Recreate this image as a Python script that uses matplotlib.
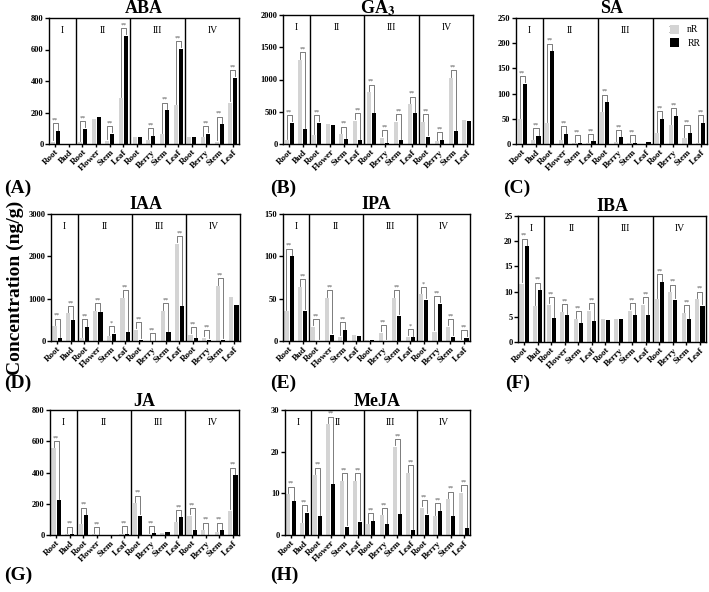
import matplotlib
matplotlib.use("Agg")
import matplotlib.pyplot as plt
import numpy as np

plt.rcParams['font.family'] = ['Liberation Serif', 'DejaVu Serif']
plt.rcParams['mathtext.fontset'] = 'stix'

# tissues for each sampling stage (I, II, III, IV)
tissues = ['Root', 'Bud',
           'Root', 'Flower', 'Stem', 'Leaf',
           'Root', 'Berry', 'Stem', 'Leaf',
           'Root', 'Berry', 'Stem', 'Leaf']
stages = ['I', 'II', 'III', 'IV']

# hormone concentrations (ng/g), nR and RR
aba_nR = [15, 2, 12, 160, 22, 290, 47, 25, 63, 245, 42, 42, 15, 262]
aba_RR = [83, 3, 97, 174, 66, 688, 47, 51, 214, 605, 47, 66, 125, 421]
aba_sig = ['**', '', '**', '', '**', '**', '', '**', '**', '**', '', '**', '**', '**']

ga3_nR = [60, 1300, 140, 310, 150, 360, 800, 100, 345, 615, 340, 40, 1025, 370]
ga3_RR = [330, 225, 330, 300, 70, 60, 480, 10, 65, 480, 115, 60, 200, 360]
ga3_sig = ['**', '**', '**', '', '**', '**', '**', '**', '**', '**', '**', '**', '**', '']

sa_nR = [49, 8, 41, 8, 1, 1, 63, 3, 1, 0.5, 21, 38, 12, 1]
sa_RR = [120, 16, 184, 20, 2, 5, 83, 13, 2, 3, 50, 56, 22, 42]
sa_sig = ['**', '**', '**', '**', '**', '**', '**', '**', '**', '', '**', '**', '**', '**']

iaa_nR = [350, 650, 70, 710, 120, 1020, 270, 5, 710, 2300, 150, 80, 1300, 1040]
iaa_RR = [70, 500, 330, 690, 175, 205, 30, 5, 205, 820, 70, 30, 30, 860]
iaa_sig = ['**', '**', '**', '**', '*', '**', '**', '**', '**', '**', '**', '**', '**', '']

ipa_nR = [35, 64, 17, 51, 5, 7.5, 1.5, 10, 51, 5, 55, 11, 17, 0.5]
ipa_RR = [100, 36, 0.3, 7.5, 13, 6, 1, 0.5, 30, 4.5, 49, 44, 5, 4]
ipa_sig = ['**', '**', '**', '**', '**', '', '', '**', '**', '*', '*', '**', '**', '**']

iba_nR = [11.6, 7.1, 7.4, 6.0, 4.6, 6.2, 4.6, 4.5, 6.2, 7.4, 8.5, 9.9, 5.8, 8.5]
iba_RR = [19.0, 10.3, 4.8, 5.3, 3.8, 4.2, 4.4, 4.5, 5.3, 5.4, 11.9, 8.4, 4.6, 7.2]
iba_sig = ['**', '**', '**', '**', '**', '**', '', '', '**', '**', '**', '**', '**', '**']

ja_nR = [555, 4, 68, 4, 2, 4, 203, 2, 15, 81, 124, 32, 17, 156]
ja_RR = [224, 6, 128, 0.5, 2, 8, 124, 10, 17, 113, 30, 0.5, 32, 384]
ja_sig = ['**', '**', '**', '**', '', '**', '**', '**', '', '**', '**', '**', '**', '**']

meja_nR = [9.8, 2.8, 14.4, 26.6, 13.0, 13.0, 2.7, 4.7, 21.2, 14.9, 6.6, 4.6, 8.6, 10.2]
meja_RR = [8.1, 5.4, 4.5, 12.2, 2.0, 3.2, 3.4, 2.6, 5.1, 1.1, 4.9, 5.8, 4.6, 1.6]
meja_sig = ['**'] * 14

# name, data, y max, y step, axes box in pixels (left, top, right, bottom),
# title baseline (px), panel letter and its position (px)
panels = [
    ('ABA', aba_nR, aba_RR, aba_sig, 800, 200, (49, 18, 239, 144), 13, '(A)', (4, 188)),
    ('GA$_{\\mathbf{3}}$', ga3_nR, ga3_RR, ga3_sig, 2000, 500, (283, 15, 473, 144), 14, '(B)', (270, 188)),
    ('SA', sa_nR, sa_RR, sa_sig, 250, 50, (516, 18, 707, 144), 13, '(C)', (503, 188)),
    ('IAA', iaa_nR, iaa_RR, iaa_sig, 3000, 1000, (51, 214, 240, 341), 209, '(D)', (4, 383)),
    ('IPA', ipa_nR, ipa_RR, ipa_sig, 150, 50, (283, 214, 470, 341), 209, '(E)', (270, 383)),
    ('IBA', iba_nR, iba_RR, iba_sig, 25, 5, (518, 216, 706, 342), 211, '(F)', (505, 383)),
    ('JA', ja_nR, ja_RR, ja_sig, 800, 200, (50, 410, 239, 535), 406, '(G)', (4, 575)),
    ('MeJA', meja_nR, meja_RR, meja_sig, 30, 10, (285, 410, 470, 535), 406, '(H)', (270, 575)),
]

W, H = 709, 592
fig = plt.figure(figsize=(W / 100, H / 100), dpi=100)

x = np.arange(len(tissues))
bw = 0.3
off = 0.19
light = '#d4d4d4'

for name, nR, RR, sig, ymax, step, box, tbase, lab, labpos in panels:
    l, t, r, b = box
    ax = fig.add_axes([l / W, 1 - b / H, (r - l) / W, (b - t) / H])
    ax.bar(x - off, nR, bw, color=light, label='nR')
    ax.bar(x + off, RR, bw, color='black', label='RR')

    # significance brackets
    for i in range(len(x)):
        if sig[i] == '':
            continue
        top = max(nR[i], RR[i]) + 0.06 * ymax
        ax.plot([x[i] - off, x[i] - off, x[i] + off, x[i] + off],
                [nR[i] + 0.01 * ymax, top, top, RR[i] + 0.01 * ymax],
                color='#666666', lw=0.6)
        ax.text(x[i], top + 0.005 * ymax, sig[i], ha='center', va='bottom',
                fontsize=4.5, color='#555555')

    for d in [1.5, 5.5, 9.5]:
        ax.axvline(d, color='black', lw=1)
    centers = [(-0.45 + 1.5) / 2, 3.5, 7.5, 11.5]
    if name == 'SA':
        centers[3] = 11.0
    for c, s in zip(centers, stages):
        ax.text(c, 0.9 * ymax, s, ha='center', va='center', fontsize=7)

    ax.set_xlim(-0.45, 13.45)
    ax.set_ylim(0, ymax)
    ax.set_yticks(np.arange(0, ymax + step / 2, step))
    ax.set_xticks(x)
    ax.set_xticklabels(tissues, rotation=45, ha='right', rotation_mode='anchor',
                       fontsize=6.5, fontweight='bold')
    for tl in ax.get_yticklabels():
        tl.set_fontsize(6)
        tl.set_fontweight('bold')
    ax.tick_params(axis='y', length=3, width=1, pad=1)
    ax.tick_params(axis='x', length=2, width=1, pad=1)
    for sp in ax.spines.values():
        sp.set_linewidth(1)

    fig.text((l + r) / 2 / W, 1 - tbase / H, name, fontsize=13,
             fontweight='bold', ha='center', va='baseline')

    if name == 'SA':
        ax.legend(loc='upper right', frameon=False, fontsize=7,
                  handlelength=1.0, handleheight=1.0, borderaxespad=0.3,
                  labelspacing=0.4)

    fig.text(labpos[0] / W, 1 - labpos[1] / H, lab, fontsize=14,
             fontweight='bold', va='center', ha='left')

fig.text(15 / W, 1 - 288 / H, 'Concentration (ng/g)', rotation=90, fontsize=14,
         fontweight='bold', ha='center', va='center')

fig.savefig('out.png', dpi=100)
